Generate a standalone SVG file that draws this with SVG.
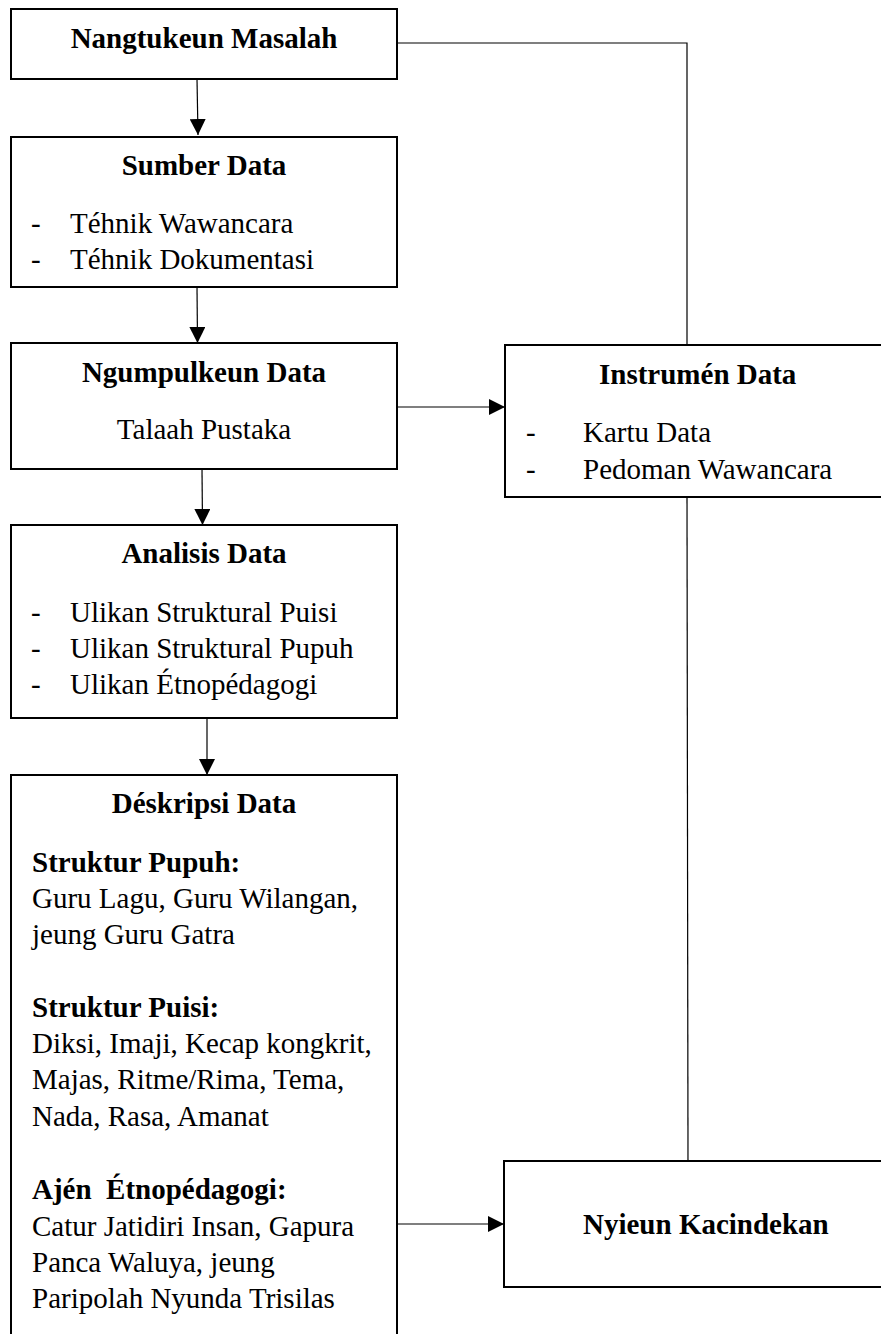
<svg xmlns="http://www.w3.org/2000/svg" width="881" height="1334" viewBox="0 0 881 1334">
<style>
.box{fill:#fff;stroke:#000;stroke-width:2}
.t{font-family:"Liberation Serif","Times New Roman",serif;font-size:29px;fill:#000}
.b{font-weight:bold}
.c{text-anchor:middle}
.ln{fill:none;stroke:#000;stroke-width:1.2}
</style>
<defs>
<marker id="arr" markerUnits="userSpaceOnUse" markerWidth="16" markerHeight="16" refX="16" refY="8" orient="auto">
<path d="M0,0 L16,8 L0,16 Z" fill="#000"/>
</marker>
</defs>
<rect width="881" height="1334" fill="#fff"/>
<g id="connectors">
<line class="ln" x1="197" y1="79" x2="198" y2="135" marker-end="url(#arr)"/>
<line class="ln" x1="197" y1="287" x2="197.5" y2="343" marker-end="url(#arr)"/>
<line class="ln" x1="202" y1="469" x2="202.5" y2="525" marker-end="url(#arr)"/>
<line class="ln" x1="207" y1="718" x2="207" y2="775" marker-end="url(#arr)"/>
<line class="ln" x1="397" y1="407" x2="505" y2="407" marker-end="url(#arr)"/>
<line class="ln" x1="397" y1="1224" x2="504" y2="1224" marker-end="url(#arr)"/>
<polyline class="ln" points="397,43 687,43 687,345"/>
<line class="ln" x1="687" y1="497" x2="688" y2="1161"/>
</g>
<g id="n1">
<rect class="box" x="11" y="9" width="386" height="70"/>
<text class="t b c" x="204" y="48">Nangtukeun Masalah</text>
</g>
<g id="n2">
<rect class="box" x="11" y="137" width="386" height="150"/>
<text class="t b c" x="204" y="175">Sumber Data</text>
<text class="t" x="31" y="233">-</text>
<text class="t" x="70" y="233">Téhnik Wawancara</text>
<text class="t" x="31" y="269">-</text>
<text class="t" x="70" y="269">Téhnik Dokumentasi</text>
</g>
<g id="n3">
<rect class="box" x="11" y="343" width="386" height="126"/>
<text class="t b c" x="204" y="382">Ngumpulkeun Data</text>
<text class="t c" x="204" y="439">Talaah Pustaka</text>
</g>
<g id="n4">
<rect class="box" x="11" y="525" width="386" height="193"/>
<text class="t b c" x="204" y="563">Analisis Data</text>
<text class="t" x="31" y="622">-</text>
<text class="t" x="70" y="622">Ulikan Struktural Puisi</text>
<text class="t" x="31" y="658">-</text>
<text class="t" x="70" y="658">Ulikan Struktural Pupuh</text>
<text class="t" x="31" y="694">-</text>
<text class="t" x="70" y="694">Ulikan Étnopédagogi</text>
</g>
<g id="n5">
<rect class="box" x="11" y="775" width="386" height="580"/>
<text class="t b c" x="204" y="813">Déskripsi Data</text>
<text class="t b" x="32" y="872">Struktur Pupuh:</text>
<text class="t" x="32" y="908">Guru Lagu, Guru Wilangan,</text>
<text class="t" x="32" y="944">jeung Guru Gatra</text>
<text class="t b" x="32" y="1017">Struktur Puisi:</text>
<text class="t" x="32" y="1053">Diksi, Imaji, Kecap kongkrit,</text>
<text class="t" x="32" y="1089">Majas, Ritme/Rima, Tema,</text>
<text class="t" x="32" y="1126">Nada, Rasa, Amanat</text>
<text class="t b" x="32" y="1199" style="white-space:pre">Ajén  Étnopédagogi:</text>
<text class="t" x="32" y="1236">Catur Jatidiri Insan, Gapura</text>
<text class="t" x="32" y="1272">Panca Waluya, jeung</text>
<text class="t" x="32" y="1308">Paripolah Nyunda Trisilas</text>
</g>
<g id="n6">
<rect class="box" x="505" y="345" width="400" height="152"/>
<text class="t b" x="599" y="384">Instrumén Data</text>
<text class="t" x="526" y="442">-</text>
<text class="t" x="583" y="442">Kartu Data</text>
<text class="t" x="526" y="479">-</text>
<text class="t" x="583" y="479">Pedoman Wawancara</text>
</g>
<g id="n7">
<rect class="box" x="504" y="1161" width="400" height="126"/>
<text class="t b" x="583" y="1234">Nyieun Kacindekan</text>
</g>
</svg>
